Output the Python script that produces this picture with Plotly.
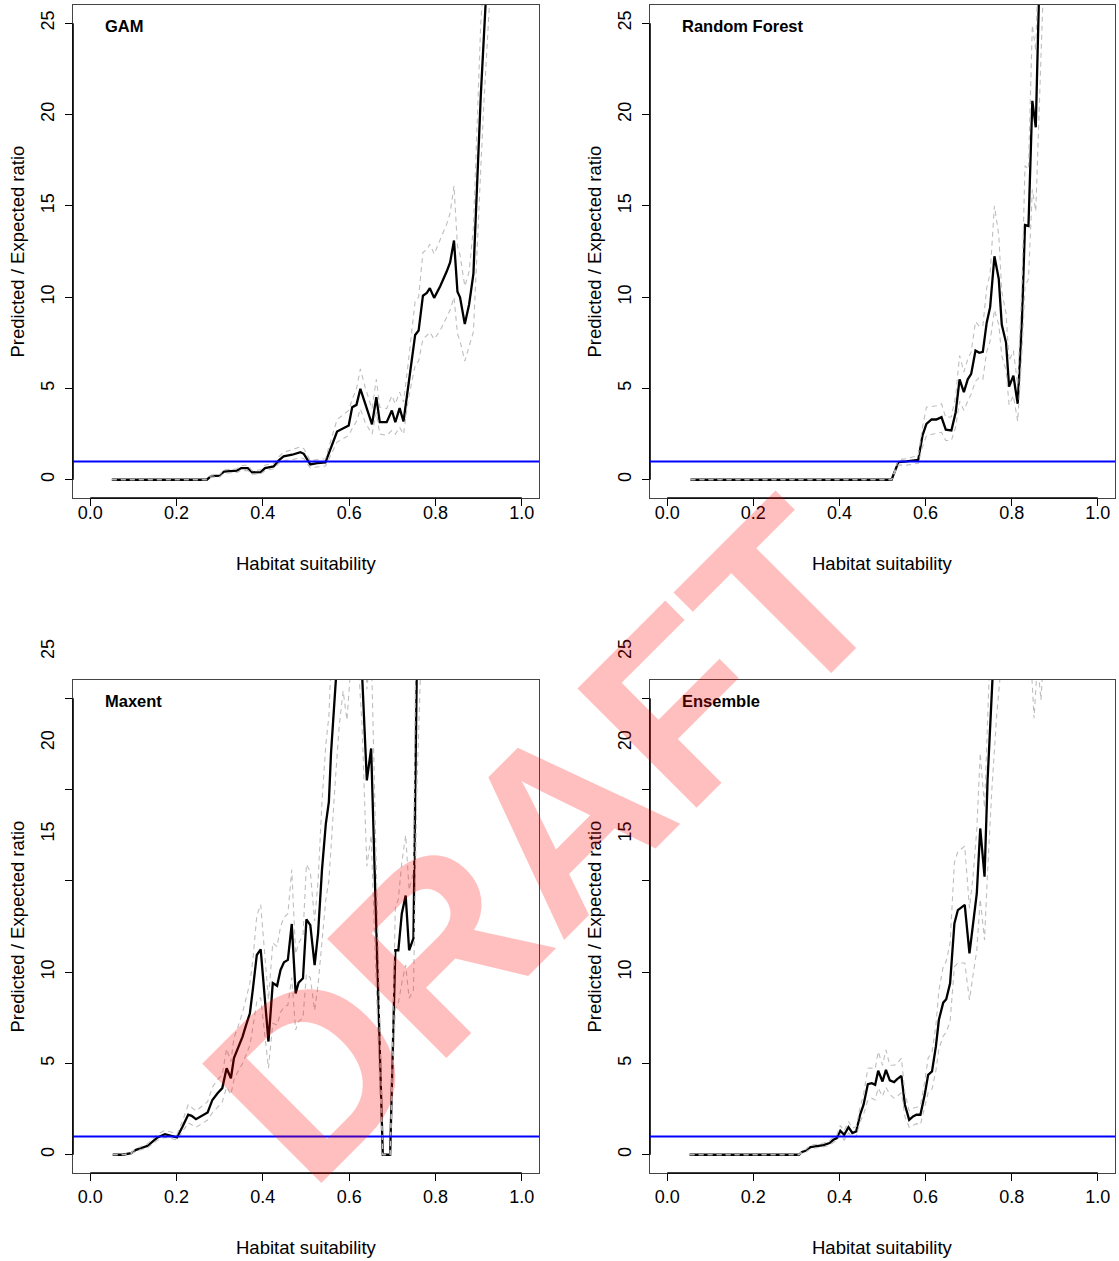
import plotly.graph_objects as go

# ---------------- data ----------------
models = ["GAM", "Random Forest", "Maxent", "Ensemble"]

x_gam = [0.05, 0.27, 0.28, 0.30, 0.31, 0.34, 0.35, 0.365, 0.375, 0.395, 0.405, 0.425, 0.437, 0.448,
         0.468, 0.487, 0.495, 0.51, 0.526, 0.545, 0.572, 0.583, 0.599, 0.607, 0.617, 0.626, 0.637,
         0.653, 0.663, 0.671, 0.687, 0.699, 0.707, 0.717, 0.726, 0.737, 0.753, 0.761, 0.771, 0.78,
         0.787, 0.797, 0.811, 0.826, 0.834, 0.843, 0.851, 0.857, 0.868, 0.878, 0.888, 0.905, 0.912,
         0.925, 0.94]
mid_gam = [0, 0, 0.2, 0.22, 0.45, 0.5, 0.64, 0.64, 0.4, 0.42, 0.64, 0.73, 1.06, 1.28, 1.37, 1.51,
           1.42, 0.84, 0.91, 0.95, 2.64, 2.79, 2.97, 3.97, 4.1, 4.98, 4.2, 3.03, 4.52, 3.15, 3.15,
           3.79, 3.15, 3.92, 3.19, 5.16, 7.93, 8.17, 10.08, 10.23, 10.49, 9.96, 10.6, 11.4, 11.9,
           13.1, 10.3, 9.99, 8.53, 9.6, 11.27, 21.0, 23.6, 30.0, 38.0]
lo_gam = [0, 0, 0.15, 0.15, 0.35, 0.4, 0.5, 0.5, 0.3, 0.32, 0.5, 0.6, 0.9, 1.05, 1.1, 1.2, 1.15,
          0.65, 0.7, 0.75, 2.06, 2.2, 2.43, 2.8, 3.2, 3.88, 3.15, 2.5, 3.7, 2.5, 2.43, 2.7, 2.5,
          2.88, 2.5, 4.4, 6.25, 6.5, 7.7, 7.9, 8.08, 7.7, 8.17, 8.9, 9.3, 10.0, 8.0, 7.6, 6.5, 7.3,
          8.1, 17.0, 20.5, 26.0, 33.0]
hi_gam = [0, 0, 0.25, 0.3, 0.55, 0.6, 0.78, 0.8, 0.5, 0.55, 0.8, 0.9, 1.25, 1.5, 1.65, 1.8, 1.7,
          1.05, 1.1, 1.15, 3.3, 3.5, 3.8, 4.4, 4.98, 6.07, 5.07, 3.88, 5.5, 3.97, 3.9, 4.6, 4.15,
          4.8, 4.25, 6.4, 9.8, 10.0, 12.45, 12.6, 12.9, 12.36, 13.2, 14.0, 14.6, 16.1, 12.8, 12.3,
          10.6, 11.4, 13.8, 25.0, 27.5, 34.0, 43.0]

x_rf = [0.054, 0.521, 0.537, 0.556, 0.583, 0.593, 0.602, 0.614, 0.625, 0.637, 0.647, 0.66, 0.67,
        0.679, 0.689, 0.698, 0.706, 0.716, 0.725, 0.733, 0.742, 0.75, 0.76, 0.77, 0.777, 0.787,
        0.794, 0.804, 0.814, 0.824, 0.831, 0.839, 0.848, 0.856, 0.864, 0.875]
mid_rf = [0, 0, 0.97, 1.0, 1.09, 2.43, 3.06, 3.3, 3.3, 3.43, 2.74, 2.7, 3.7, 5.5, 4.8, 5.5, 5.8,
          7.07, 6.95, 7.0, 8.6, 9.45, 12.24, 11.0, 8.5, 7.5, 5.1, 5.7, 4.16, 8.8, 13.95, 13.9,
          20.75, 19.3, 27.0, 35.0]
lo_rf = [0, 0, 0.8, 0.8, 0.9, 1.8, 2.4, 2.5, 2.55, 2.6, 2.15, 2.15, 2.9, 4.3, 3.8, 4.3, 4.7, 5.4,
         5.6, 5.5, 7.0, 7.6, 9.3, 8.5, 6.8, 6.0, 4.1, 4.6, 3.2, 7.0, 10.6, 11.0, 15.9, 14.7, 20.0,
         28.0]
hi_rf = [0, 0, 1.1, 1.15, 1.33, 2.9, 3.97, 4.0, 4.05, 4.16, 3.4, 3.45, 4.6, 6.8, 5.9, 6.6, 7.0,
         8.66, 8.4, 8.4, 10.5, 11.3, 15.0, 13.4, 10.3, 9.1, 6.5, 7.07, 5.2, 10.8, 17.2, 17.0, 24.9,
         23.5, 32.0, 40.0]

x_mx = [0.052, 0.075, 0.095, 0.106, 0.118, 0.133, 0.145, 0.156, 0.173, 0.187, 0.201, 0.214, 0.227,
        0.235, 0.245, 0.272, 0.283, 0.295, 0.306, 0.316, 0.326, 0.333, 0.341, 0.353, 0.36, 0.37,
        0.377, 0.386, 0.395, 0.413, 0.423, 0.433, 0.441, 0.449, 0.458, 0.467, 0.476, 0.483, 0.493,
        0.501, 0.51, 0.52, 0.528, 0.537, 0.546, 0.553, 0.558, 0.568, 0.577, 0.586, 0.595, 0.603,
        0.612, 0.621, 0.63, 0.641, 0.651, 0.66, 0.669, 0.678, 0.687, 0.695, 0.707, 0.714, 0.722,
        0.731, 0.739, 0.749, 0.757, 0.77]
mid_mx = [0, 0, 0.09, 0.27, 0.36, 0.49, 0.73, 0.95, 1.13, 1.06, 0.95, 1.55, 2.19, 2.13, 1.95, 2.32,
          3.0, 3.37, 3.65, 4.74, 4.19, 5.29, 5.74, 6.47, 7.02, 7.75, 9.1, 10.94, 11.25, 6.2, 9.4,
          9.25, 10.12, 10.54, 10.67, 12.64, 8.84, 9.43, 9.66, 12.89, 12.58, 10.39, 12.13, 15.59,
          18.14, 19.33, 22.0, 26.1, 30.0, 32.0, 33.0, 34.0, 33.0, 31.0, 26.3, 20.5, 22.25, 14.5,
          7.0, 0, 0, 0, 11.2, 11.2, 13.2, 14.2, 11.2, 11.85, 27.0, 40.0]
lo_mx = [0, 0, 0.05, 0.2, 0.28, 0.38, 0.6, 0.8, 0.95, 0.9, 0.8, 1.25, 1.75, 1.64, 1.5, 1.9, 2.3,
         2.6, 2.9, 3.7, 3.3, 4.1, 4.5, 5.0, 5.4, 6.0, 7.0, 8.4, 8.6, 4.74, 7.2, 7.1, 7.8, 8.1, 8.2,
         9.7, 6.84, 7.3, 7.5, 9.9, 9.7, 7.9, 9.3, 11.8, 14.0, 15.0, 17.0, 20.5, 23.5, 25.4, 23.8,
         26.5, 28.0, 27.0, 23.5, 15.8, 17.5, 11.0, 5.0, 0, 0, 0, 8.0, 8.3, 9.4, 10.4, 8.57, 9.0,
         20.0, 30.0]
hi_mx = [0, 0, 0.12, 0.34, 0.45, 0.6, 0.88, 1.12, 1.33, 1.25, 1.12, 1.85, 2.74, 2.6, 2.4, 2.9, 3.7,
         4.1, 4.4, 5.8, 5.1, 6.4, 6.9, 7.8, 8.5, 9.4, 10.7, 13.1, 13.7, 8.5, 11.6, 11.4, 12.5, 13.0,
         13.2, 15.6, 11.0, 11.6, 12.0, 15.9, 15.5, 12.8, 15.0, 19.3, 22.5, 24.0, 27.0, 32.0, 37.0,
         40.0, 42.0, 43.0, 42.0, 40.0, 35.0, 25.5, 28.0, 18.0, 9.5, 0, 0, 0, 13.5, 14.0, 16.0,
         17.5, 14.5, 15.5, 34.0, 50.0]

x_en = [0.052, 0.306, 0.313, 0.322, 0.333, 0.348, 0.363, 0.377, 0.386, 0.394, 0.402, 0.411, 0.421,
        0.43, 0.439, 0.448, 0.456, 0.466, 0.475, 0.483, 0.49, 0.5, 0.508, 0.517, 0.527, 0.534,
        0.544, 0.552, 0.562, 0.571, 0.579, 0.588, 0.598, 0.606, 0.615, 0.624, 0.631, 0.641, 0.648,
        0.657, 0.667, 0.675, 0.691, 0.702, 0.71, 0.719, 0.727, 0.737, 0.744, 0.748, 0.754, 0.765,
        0.78, 0.8, 0.83, 0.845, 0.852, 0.86, 0.868, 0.876, 0.9]
mid_en = [0, 0, 0.15, 0.22, 0.42, 0.46, 0.53, 0.64, 0.82, 0.91, 1.31, 1.09, 1.51, 1.19, 1.28, 2.19,
          2.74, 3.87, 3.92, 3.83, 4.6, 4.01, 4.65, 4.07, 3.98, 4.14, 4.32, 2.74, 1.91, 2.1, 2.19,
          2.19, 3.28, 4.38, 4.56, 5.93, 7.39, 8.33, 8.52, 9.39, 12.67, 13.4, 13.68, 11.03, 12.58,
          14.31, 17.87, 15.23, 20.5, 22.9, 26.5, 32.0, 38.0, 42.0, 44.0, 45.0, 45.0, 46.0, 46.0,
          47.0, 50.0]
lo_en = [0, 0, 0.1, 0.15, 0.33, 0.37, 0.43, 0.52, 0.68, 0.75, 1.1, 0.8, 1.2, 0.95, 1.0, 1.8, 2.2,
         3.0, 3.1, 3.0, 3.65, 3.2, 3.7, 3.3, 3.1, 3.2, 3.4, 2.1, 1.51, 1.6, 1.7, 1.64, 2.6, 3.4,
         3.6, 4.6, 5.8, 6.5, 6.7, 7.3, 10.3, 10.5, 10.5, 8.48, 9.8, 11.2, 14.0, 11.76, 15.5, 17.5,
         20.0, 24.0, 28.0, 30.0, 30.0, 27.0, 23.9, 27.0, 24.9, 28.0, 32.0]
hi_en = [0, 0, 0.2, 0.3, 0.52, 0.56, 0.64, 0.77, 0.97, 1.08, 1.6, 1.3, 1.82, 1.45, 1.55, 2.6, 3.3,
         4.74, 4.75, 4.7, 5.65, 4.9, 5.74, 4.9, 4.9, 5.0, 5.29, 3.4, 2.4, 2.55, 2.6, 2.7, 4.0, 5.3,
         5.6, 7.1, 9.0, 10.3, 10.6, 11.6, 16.0, 16.6, 16.9, 13.5, 15.2, 17.8, 22.0, 19.0, 26.0,
         29.0, 33.0, 40.0, 48.0, 52.0, 55.0, 56.0, 56.0, 57.0, 57.0, 58.0, 62.0]

x_ticks = [0.0, 0.2, 0.4, 0.6, 0.8, 1.0]
x_tick_labels = ["0.0", "0.2", "0.4", "0.6", "0.8", "1.0"]
y_ticks = [0, 5, 10, 15, 20, 25]
y_tick_labels = ["0", "5", "10", "15", "20", "25"]
reference_ratio = 1
x_title = "Habitat suitability"
y_title = "Predicted / Expected ratio"
watermark = "DRAFT"

series = [
    (x_gam, mid_gam, lo_gam, hi_gam),
    (x_rf, mid_rf, lo_rf, hi_rf),
    (x_mx, mid_mx, lo_mx, hi_mx),
    (x_en, mid_en, lo_en, hi_en),
]

# ---------------- layout geometry (pixels) ----------------
W, H = 1119, 1261
boxes = [(73, 539, 5, 498), (650, 1115, 5, 498), (73, 539, 680, 1173), (650, 1115, 680, 1173)]
X_RANGE = [-0.04, 1.04]
Y_RANGE = [-1, 26]
FONT = "Liberation Sans"
TICK_FONT = 18
LABEL_SHIFT = 2.7   # bottom row: upper tick labels drawn offset from their ticks

fig = go.Figure()
layout = dict(
    width=W, height=H, margin=dict(l=0, r=0, t=0, b=0),
    paper_bgcolor="white", plot_bgcolor="white", showlegend=False,
    font=dict(family=FONT, size=TICK_FONT, color="black"),
)
annotations = []
shapes = []

for i, (name, (xs, mid, lo, hi), box) in enumerate(zip(models, series, boxes)):
    n = "" if i == 0 else str(i + 1)
    xa, ya = "x" + n, "y" + n
    left, right, top, bottom = box
    top_row = i < 2

    fig.add_trace(go.Scatter(x=xs, y=mid, mode="lines", xaxis=xa, yaxis=ya,
                             line=dict(color="black", width=2.3), hoverinfo="skip"))
    for band in (lo, hi):
        fig.add_trace(go.Scatter(x=xs, y=band, mode="lines", xaxis=xa, yaxis=ya,
                                 line=dict(color="#BEBEBE", width=1.1, dash="5px,4px"),
                                 hoverinfo="skip"))

    xaxis = dict(domain=[left / W, right / W], range=X_RANGE, anchor=ya,
                 tickvals=x_ticks, ticktext=x_tick_labels, ticks="outside", ticklen=7,
                 tickwidth=1, tickcolor="black", showline=True, mirror=True,
                 linecolor="#444444", linewidth=1, showgrid=False, zeroline=False,
                 automargin=False, tickfont=dict(size=TICK_FONT),
                 ticklabelstandoff=-9 if top_row else 0)
    yaxis = dict(domain=[1 - bottom / H, 1 - top / H], range=Y_RANGE, anchor=xa,
                 tickvals=y_ticks, ticks="outside", ticklen=7, tickwidth=1,
                 tickcolor="black", showline=True, mirror=True, linecolor="#444444",
                 linewidth=1, showgrid=False, zeroline=False, automargin=False,
                 tickangle=-90, tickfont=dict(size=TICK_FONT), ticklabelstandoff=4)
    if top_row:
        yaxis["ticktext"] = y_tick_labels
    else:
        yaxis["ticktext"] = [t if v <= 10 else "" for v, t in zip(y_ticks, y_tick_labels)]
        for v, t in zip(y_ticks, y_tick_labels):
            if v > 10:
                yd = (v + LABEL_SHIFT - Y_RANGE[0]) / (Y_RANGE[1] - Y_RANGE[0])
                annotations.append(dict(text=t, x=0, xref=xa + " domain", y=yd,
                                        yref=ya + " domain", showarrow=False, textangle=-90,
                                        xanchor="center", yanchor="middle", xshift=-25,
                                        font=dict(size=TICK_FONT)))
    layout["xaxis" + n] = xaxis
    layout["yaxis" + n] = yaxis

    # axis lines over the tick span (R style, darker than the box)
    shapes.append(dict(type="line", xref=xa + " domain", x0=0, x1=0, yref=ya,
                       y0=y_ticks[0], y1=y_ticks[-1], line=dict(color="black", width=1.6)))
    shapes.append(dict(type="line", xref=xa, x0=x_ticks[0], x1=x_ticks[-1],
                       yref=ya + " domain", y0=0, y1=0, line=dict(color="black", width=1.6)))

    # reference line at ratio = 1
    shapes.append(dict(type="line", xref=xa + " domain", x0=0, x1=1, yref=ya,
                       y0=reference_ratio, y1=reference_ratio,
                       line=dict(color="#0000FF", width=2)))

    # panel label
    annotations.append(dict(text="<b>" + name + "</b>", x=0, xref=xa + " domain", xshift=30,
                            y=1, yref=ya + " domain", yshift=-21, xanchor="left",
                            yanchor="middle", showarrow=False, font=dict(size=16.5)))
    # axis titles
    title_gap = 65 if top_row else 74
    annotations.append(dict(text=x_title, x=(left + right) / 2 / W, xref="paper",
                            y=1 - (bottom + title_gap) / H, yref="paper", showarrow=False,
                            xanchor="center", yanchor="middle", font=dict(size=18.5)))
    annotations.append(dict(text=y_title, x=(left - 56) / W, xref="paper",
                            y=1 - (top + bottom) / 2 / H, yref="paper", showarrow=False,
                            textangle=-90, xanchor="center", yanchor="middle",
                            font=dict(size=18.5)))

# watermark
annotations.append(dict(text="<b>" + watermark + "</b>", x=543 / W, y=1 - 841 / H,
                        xref="paper", yref="paper", showarrow=False, textangle=-45,
                        xanchor="center", yanchor="middle",
                        font=dict(size=245, color="rgba(255,0,0,0.25)", family=FONT)))

layout["annotations"] = annotations
layout["shapes"] = shapes
fig.update_layout(**layout)
fig.write_html("out.html", config={"displayModeBar": False},
               post_script="document.body.style.margin='0px';"
                           "document.body.style.overflow='hidden';")
